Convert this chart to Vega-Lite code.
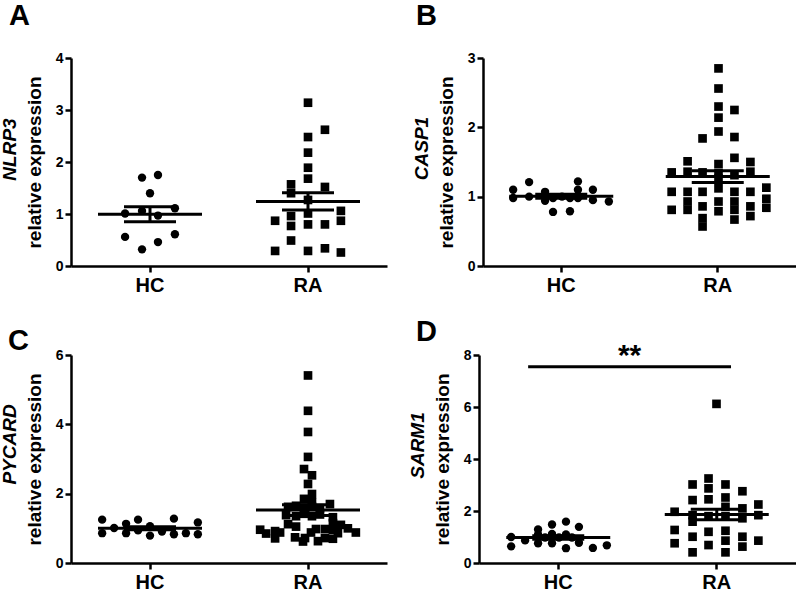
{
  "$schema": "https://vega.github.io/schema/vega-lite/v6.json",
  "padding": {"left": 0, "top": 2, "right": 0, "bottom": 0},
  "background": "white",
  "config": {
    "font": "Liberation Sans",
    "view": {"stroke": null},
    "tick": {"opacity": 1},
    "rule": {"opacity": 1},
    "axis": {"grid": false, "domainColor": "black", "domainWidth": 2.5, "tickColor": "black", "tickWidth": 2.5, "tickSize": 6, "labelColor": "black", "labelFont": "Liberation Sans", "labelFontWeight": "bold", "labelFontSize": 14, "titleColor": "black", "titleFont": "Liberation Sans", "titleFontWeight": "bold", "titleFontSize": 19},
    "axisX": {"labelFontSize": 20, "labelAngle": 0, "labelPadding": 3},
    "axisY": {"labelPadding": 2},
    "title": {"font": "Liberation Sans", "fontSize": 29, "fontWeight": "bold", "color": "black", "anchor": "start", "frame": "group"}
  },
  "datasets": {
    "pts": [
      {"panel":"A","group":"HC","jitter":-8,"value":1.70},
      {"panel":"A","group":"HC","jitter":8,"value":1.75},
      {"panel":"A","group":"HC","jitter":0,"value":1.40},
      {"panel":"A","group":"HC","jitter":-25,"value":1.01},
      {"panel":"A","group":"HC","jitter":-8,"value":1.06},
      {"panel":"A","group":"HC","jitter":8,"value":0.97},
      {"panel":"A","group":"HC","jitter":25,"value":1.11},
      {"panel":"A","group":"HC","jitter":-25,"value":0.56},
      {"panel":"A","group":"HC","jitter":8,"value":0.46},
      {"panel":"A","group":"HC","jitter":25,"value":0.61},
      {"panel":"A","group":"HC","jitter":-8,"value":0.32},
      {"panel":"A","group":"RA","jitter":0,"value":3.14},
      {"panel":"A","group":"RA","jitter":17,"value":2.62},
      {"panel":"A","group":"RA","jitter":0,"value":2.48},
      {"panel":"A","group":"RA","jitter":0,"value":2.18},
      {"panel":"A","group":"RA","jitter":0,"value":1.89},
      {"panel":"A","group":"RA","jitter":0,"value":1.68},
      {"panel":"A","group":"RA","jitter":-17,"value":1.57},
      {"panel":"A","group":"RA","jitter":17,"value":1.52},
      {"panel":"A","group":"RA","jitter":-17,"value":1.40},
      {"panel":"A","group":"RA","jitter":0,"value":1.27},
      {"panel":"A","group":"RA","jitter":0,"value":1.01},
      {"panel":"A","group":"RA","jitter":-17,"value":0.96},
      {"panel":"A","group":"RA","jitter":33,"value":1.06},
      {"panel":"A","group":"RA","jitter":33,"value":0.87},
      {"panel":"A","group":"RA","jitter":-33,"value":0.87},
      {"panel":"A","group":"RA","jitter":-17,"value":0.77},
      {"panel":"A","group":"RA","jitter":0,"value":0.80},
      {"panel":"A","group":"RA","jitter":17,"value":0.80},
      {"panel":"A","group":"RA","jitter":-17,"value":0.49},
      {"panel":"A","group":"RA","jitter":-33,"value":0.29},
      {"panel":"A","group":"RA","jitter":0,"value":0.29},
      {"panel":"A","group":"RA","jitter":17,"value":0.34},
      {"panel":"A","group":"RA","jitter":33,"value":0.26},

      {"panel":"B","group":"HC","jitter":-49,"value":1.10},
      {"panel":"B","group":"HC","jitter":-49,"value":0.98},
      {"panel":"B","group":"HC","jitter":-33,"value":1.21},
      {"panel":"B","group":"HC","jitter":-33,"value":1.00},
      {"panel":"B","group":"HC","jitter":-17,"value":1.07},
      {"panel":"B","group":"HC","jitter":-17,"value":0.94},
      {"panel":"B","group":"HC","jitter":-9,"value":0.78},
      {"panel":"B","group":"HC","jitter":-9,"value":0.98},
      {"panel":"B","group":"HC","jitter":0,"value":1.00},
      {"panel":"B","group":"HC","jitter":8,"value":0.79},
      {"panel":"B","group":"HC","jitter":8,"value":0.98},
      {"panel":"B","group":"HC","jitter":16,"value":1.22},
      {"panel":"B","group":"HC","jitter":16,"value":1.10},
      {"panel":"B","group":"HC","jitter":16,"value":0.98},
      {"panel":"B","group":"HC","jitter":31,"value":1.10},
      {"panel":"B","group":"HC","jitter":31,"value":0.95},
      {"panel":"B","group":"HC","jitter":47,"value":0.93},
      {"panel":"B","group":"RA","jitter":-47,"value":1.35},
      {"panel":"B","group":"RA","jitter":-47,"value":1.07},
      {"panel":"B","group":"RA","jitter":-47,"value":0.81},
      {"panel":"B","group":"RA","jitter":-31,"value":1.51},
      {"panel":"B","group":"RA","jitter":-31,"value":1.36},
      {"panel":"B","group":"RA","jitter":-31,"value":1.07},
      {"panel":"B","group":"RA","jitter":-31,"value":0.93},
      {"panel":"B","group":"RA","jitter":-31,"value":0.81},
      {"panel":"B","group":"RA","jitter":-16,"value":1.84},
      {"panel":"B","group":"RA","jitter":-16,"value":1.35},
      {"panel":"B","group":"RA","jitter":-16,"value":1.07},
      {"panel":"B","group":"RA","jitter":-16,"value":0.86},
      {"panel":"B","group":"RA","jitter":-16,"value":0.69},
      {"panel":"B","group":"RA","jitter":-16,"value":0.57},
      {"panel":"B","group":"RA","jitter":0,"value":2.85},
      {"panel":"B","group":"RA","jitter":0,"value":2.56},
      {"panel":"B","group":"RA","jitter":0,"value":2.30},
      {"panel":"B","group":"RA","jitter":0,"value":2.14},
      {"panel":"B","group":"RA","jitter":0,"value":1.94},
      {"panel":"B","group":"RA","jitter":0,"value":1.47},
      {"panel":"B","group":"RA","jitter":0,"value":1.34},
      {"panel":"B","group":"RA","jitter":0,"value":1.26},
      {"panel":"B","group":"RA","jitter":0,"value":1.12},
      {"panel":"B","group":"RA","jitter":0,"value":0.93},
      {"panel":"B","group":"RA","jitter":0,"value":0.79},
      {"panel":"B","group":"RA","jitter":16,"value":2.25},
      {"panel":"B","group":"RA","jitter":16,"value":1.86},
      {"panel":"B","group":"RA","jitter":16,"value":1.56},
      {"panel":"B","group":"RA","jitter":16,"value":1.31},
      {"panel":"B","group":"RA","jitter":16,"value":1.07},
      {"panel":"B","group":"RA","jitter":16,"value":0.93},
      {"panel":"B","group":"RA","jitter":16,"value":0.81},
      {"panel":"B","group":"RA","jitter":16,"value":0.67},
      {"panel":"B","group":"RA","jitter":32,"value":1.50},
      {"panel":"B","group":"RA","jitter":32,"value":1.36},
      {"panel":"B","group":"RA","jitter":32,"value":1.07},
      {"panel":"B","group":"RA","jitter":32,"value":0.86},
      {"panel":"B","group":"RA","jitter":32,"value":0.72},
      {"panel":"B","group":"RA","jitter":48,"value":1.13},
      {"panel":"B","group":"RA","jitter":48,"value":0.97},
      {"panel":"B","group":"RA","jitter":48,"value":0.84},

      {"panel":"C","group":"HC","jitter":-48,"value":1.25},
      {"panel":"C","group":"HC","jitter":-48,"value":0.86},
      {"panel":"C","group":"HC","jitter":-36,"value":1.01},
      {"panel":"C","group":"HC","jitter":-24,"value":1.13},
      {"panel":"C","group":"HC","jitter":-24,"value":0.86},
      {"panel":"C","group":"HC","jitter":-12,"value":1.25},
      {"panel":"C","group":"HC","jitter":-12,"value":0.94},
      {"panel":"C","group":"HC","jitter":0,"value":1.06},
      {"panel":"C","group":"HC","jitter":0,"value":0.79},
      {"panel":"C","group":"HC","jitter":12,"value":0.91},
      {"panel":"C","group":"HC","jitter":24,"value":1.28},
      {"panel":"C","group":"HC","jitter":24,"value":0.83},
      {"panel":"C","group":"HC","jitter":36,"value":0.86},
      {"panel":"C","group":"HC","jitter":48,"value":1.17},
      {"panel":"C","group":"HC","jitter":48,"value":0.83},
      {"panel":"C","group":"RA","jitter":0,"value":5.41},
      {"panel":"C","group":"RA","jitter":0,"value":4.39},
      {"panel":"C","group":"RA","jitter":0,"value":3.78},
      {"panel":"C","group":"RA","jitter":0,"value":3.06},
      {"panel":"C","group":"RA","jitter":-4,"value":2.71},
      {"panel":"C","group":"RA","jitter":4,"value":2.53},
      {"panel":"C","group":"RA","jitter":0,"value":2.28},
      {"panel":"C","group":"RA","jitter":4,"value":1.99},
      {"panel":"C","group":"RA","jitter":-4,"value":1.85},
      {"panel":"C","group":"RA","jitter":4,"value":1.75},
      {"panel":"C","group":"RA","jitter":-20,"value":1.62},
      {"panel":"C","group":"RA","jitter":-12,"value":1.65},
      {"panel":"C","group":"RA","jitter":-4,"value":1.60},
      {"panel":"C","group":"RA","jitter":4,"value":1.62},
      {"panel":"C","group":"RA","jitter":12,"value":1.58},
      {"panel":"C","group":"RA","jitter":22,"value":1.70},
      {"panel":"C","group":"RA","jitter":-22,"value":1.38},
      {"panel":"C","group":"RA","jitter":-12,"value":1.35},
      {"panel":"C","group":"RA","jitter":-4,"value":1.42},
      {"panel":"C","group":"RA","jitter":4,"value":1.35},
      {"panel":"C","group":"RA","jitter":12,"value":1.40},
      {"panel":"C","group":"RA","jitter":25,"value":1.32},
      {"panel":"C","group":"RA","jitter":-20,"value":1.12},
      {"panel":"C","group":"RA","jitter":-12,"value":1.05},
      {"panel":"C","group":"RA","jitter":25,"value":1.15},
      {"panel":"C","group":"RA","jitter":33,"value":1.10},
      {"panel":"C","group":"RA","jitter":-48,"value":0.96},
      {"panel":"C","group":"RA","jitter":-33,"value":0.92},
      {"panel":"C","group":"RA","jitter":8,"value":0.98},
      {"panel":"C","group":"RA","jitter":17,"value":0.98},
      {"panel":"C","group":"RA","jitter":25,"value":0.96},
      {"panel":"C","group":"RA","jitter":40,"value":1.00},
      {"panel":"C","group":"RA","jitter":-42,"value":0.85},
      {"panel":"C","group":"RA","jitter":-28,"value":0.88},
      {"panel":"C","group":"RA","jitter":3,"value":0.88},
      {"panel":"C","group":"RA","jitter":30,"value":0.86},
      {"panel":"C","group":"RA","jitter":48,"value":0.88},
      {"panel":"C","group":"RA","jitter":-33,"value":0.71},
      {"panel":"C","group":"RA","jitter":-13,"value":0.74},
      {"panel":"C","group":"RA","jitter":-3,"value":0.72},
      {"panel":"C","group":"RA","jitter":17,"value":0.72},
      {"panel":"C","group":"RA","jitter":25,"value":0.70},
      {"panel":"C","group":"RA","jitter":-5,"value":0.62},
      {"panel":"C","group":"RA","jitter":10,"value":0.63},

      {"panel":"D","group":"HC","jitter":-47,"value":1.00},
      {"panel":"D","group":"HC","jitter":-47,"value":0.64},
      {"panel":"D","group":"HC","jitter":-33,"value":0.87},
      {"panel":"D","group":"HC","jitter":-20,"value":1.29},
      {"panel":"D","group":"HC","jitter":-20,"value":1.10},
      {"panel":"D","group":"HC","jitter":-20,"value":0.76},
      {"panel":"D","group":"HC","jitter":-6,"value":1.48},
      {"panel":"D","group":"HC","jitter":-6,"value":1.12},
      {"panel":"D","group":"HC","jitter":-6,"value":0.76},
      {"panel":"D","group":"HC","jitter":-13,"value":0.98},
      {"panel":"D","group":"HC","jitter":8,"value":1.59},
      {"panel":"D","group":"HC","jitter":8,"value":1.10},
      {"panel":"D","group":"HC","jitter":8,"value":0.57},
      {"panel":"D","group":"HC","jitter":1,"value":0.98},
      {"panel":"D","group":"HC","jitter":21,"value":1.39},
      {"panel":"D","group":"HC","jitter":21,"value":0.78},
      {"panel":"D","group":"HC","jitter":14,"value":0.98},
      {"panel":"D","group":"HC","jitter":35,"value":0.58},
      {"panel":"D","group":"HC","jitter":49,"value":0.68},
      {"panel":"D","group":"RA","jitter":0,"value":6.12},
      {"panel":"D","group":"RA","jitter":-42,"value":1.97},
      {"panel":"D","group":"RA","jitter":-42,"value":1.27},
      {"panel":"D","group":"RA","jitter":-42,"value":0.76},
      {"panel":"D","group":"RA","jitter":-24,"value":3.02},
      {"panel":"D","group":"RA","jitter":-24,"value":2.42},
      {"panel":"D","group":"RA","jitter":-24,"value":1.84},
      {"panel":"D","group":"RA","jitter":-24,"value":1.59},
      {"panel":"D","group":"RA","jitter":-24,"value":1.01},
      {"panel":"D","group":"RA","jitter":-24,"value":0.41},
      {"panel":"D","group":"RA","jitter":-8,"value":3.25},
      {"panel":"D","group":"RA","jitter":-8,"value":2.87},
      {"panel":"D","group":"RA","jitter":-8,"value":2.45},
      {"panel":"D","group":"RA","jitter":-8,"value":1.80},
      {"panel":"D","group":"RA","jitter":-8,"value":1.20},
      {"panel":"D","group":"RA","jitter":-8,"value":0.69},
      {"panel":"D","group":"RA","jitter":9,"value":3.02},
      {"panel":"D","group":"RA","jitter":9,"value":2.52},
      {"panel":"D","group":"RA","jitter":9,"value":2.16},
      {"panel":"D","group":"RA","jitter":9,"value":1.80},
      {"panel":"D","group":"RA","jitter":9,"value":1.24},
      {"panel":"D","group":"RA","jitter":9,"value":0.86},
      {"panel":"D","group":"RA","jitter":9,"value":0.41},
      {"panel":"D","group":"RA","jitter":26,"value":2.76},
      {"panel":"D","group":"RA","jitter":26,"value":2.10},
      {"panel":"D","group":"RA","jitter":26,"value":1.72},
      {"panel":"D","group":"RA","jitter":26,"value":1.01},
      {"panel":"D","group":"RA","jitter":26,"value":0.63},
      {"panel":"D","group":"RA","jitter":42,"value":2.25},
      {"panel":"D","group":"RA","jitter":42,"value":1.84},
      {"panel":"D","group":"RA","jitter":42,"value":0.86}
    ]
  },
  "data": {"name": "pts"},
  "bounds": "flush",
  "spacing": 297,
  "vconcat": [
    {
      "bounds": "flush",
      "spacing": 96,
      "hconcat": [
        {
          "width": 316, "height": 208,
          "title": {"text": "A", "dx": -62, "offset": 20},
          "transform": [{"filter": "datum.panel === 'A'"}],
          "layer": [
            {
              "mark": {"type": "point", "filled": true, "opacity": 1, "color": "black"},
              "encoding": {
                "x": {"field": "group", "type": "nominal", "title": null, "scale": {"type": "band", "domain": ["HC", "RA"], "paddingInner": 0, "paddingOuter": 0}},
                "xOffset": {"field": "jitter", "type": "quantitative", "scale": {"domain": [-79, 79]}},
                "y": {"field": "value", "type": "quantitative", "scale": {"domain": [0, 4], "nice": false}, "axis": {"orient": "left", "title": "NLRP3", "titleFontStyle": "italic", "labels": false, "ticks": false, "domain": false, "titlePadding": 52, "titleY": 91}},
                "shape": {"field": "group", "type": "nominal", "scale": {"domain": ["HC", "RA"], "range": ["circle", "square"]}, "legend": null},
                "size": {"field": "group", "type": "ordinal", "scale": {"domain": ["HC", "RA"], "range": [70, 75]}, "legend": null}
              }
            },
            {
              "mark": {"type": "tick", "size": 104, "thickness": 3, "color": "black", "opacity": 1},
              "encoding": {
                "x": {"field": "group", "type": "nominal", "title": null},
                "y": {"aggregate": "mean", "field": "value", "type": "quantitative", "axis": {"orient": "left", "title": "relative expression", "values": [0, 1, 2, 3, 4], "titlePadding": 11}}
              }
            },
            {
              "mark": {"type": "errorbar", "extent": "stderr", "ticks": {"opacity": 1, "color": "black"}, "rule": {"opacity": 1, "color": "black"}, "size": 52, "thickness": 3, "color": "black"},
              "encoding": {
                "x": {"field": "group", "type": "nominal", "title": null},
                "y": {"field": "value", "type": "quantitative", "axis": null}
              }
            }
          ],
          "resolve": {"axis": {"y": "independent"}}
        },
        {
          "width": 313, "height": 208,
          "title": {"text": "B", "dx": -67, "offset": 20},
          "transform": [{"filter": "datum.panel === 'B'"}],
          "layer": [
            {
              "mark": {"type": "point", "filled": true, "opacity": 1, "color": "black"},
              "encoding": {
                "x": {"field": "group", "type": "nominal", "title": null, "scale": {"type": "band", "domain": ["HC", "RA"], "paddingInner": 0, "paddingOuter": 0}},
                "xOffset": {"field": "jitter", "type": "quantitative", "scale": {"domain": [-78.25, 78.25]}},
                "y": {"field": "value", "type": "quantitative", "scale": {"domain": [0, 3], "nice": false}, "axis": {"orient": "left", "title": "CASP1", "titleFontStyle": "italic", "labels": false, "ticks": false, "domain": false, "titlePadding": 52, "titleY": 90}},
                "shape": {"field": "group", "type": "nominal", "scale": {"domain": ["HC", "RA"], "range": ["circle", "square"]}, "legend": null},
                "size": {"field": "group", "type": "ordinal", "scale": {"domain": ["HC", "RA"], "range": [50, 62]}, "legend": null}
              }
            },
            {
              "mark": {"type": "tick", "size": 104, "thickness": 3, "color": "black", "opacity": 1},
              "encoding": {
                "x": {"field": "group", "type": "nominal", "title": null},
                "y": {"aggregate": "mean", "field": "value", "type": "quantitative", "axis": {"orient": "left", "title": "relative expression", "values": [0, 1, 2, 3], "titlePadding": 11}}
              }
            },
            {
              "mark": {"type": "errorbar", "extent": "stderr", "ticks": {"opacity": 1, "color": "black"}, "rule": {"opacity": 1, "color": "black"}, "size": 52, "thickness": 3, "color": "black"},
              "encoding": {
                "x": {"field": "group", "type": "nominal", "title": null},
                "y": {"field": "value", "type": "quantitative", "axis": null}
              }
            }
          ],
          "resolve": {"axis": {"y": "independent"}}
        }
      ]
    },
    {
      "bounds": "flush",
      "spacing": 92,
      "hconcat": [
        {
          "width": 316, "height": 208,
          "title": {"text": "C", "dx": -63, "offset": -8},
          "transform": [{"filter": "datum.panel === 'C'"}],
          "layer": [
            {
              "mark": {"type": "point", "filled": true, "opacity": 1, "color": "black"},
              "encoding": {
                "x": {"field": "group", "type": "nominal", "title": null, "scale": {"type": "band", "domain": ["HC", "RA"], "paddingInner": 0, "paddingOuter": 0}},
                "xOffset": {"field": "jitter", "type": "quantitative", "scale": {"domain": [-79, 79]}},
                "y": {"field": "value", "type": "quantitative", "scale": {"domain": [0, 6], "nice": false}, "axis": {"orient": "left", "title": "PYCARD", "titleFontStyle": "italic", "labels": false, "ticks": false, "domain": false, "titlePadding": 52, "titleY": 89}},
                "shape": {"field": "group", "type": "nominal", "scale": {"domain": ["HC", "RA"], "range": ["circle", "square"]}, "legend": null},
                "size": {"field": "group", "type": "ordinal", "scale": {"domain": ["HC", "RA"], "range": [50, 62]}, "legend": null}
              }
            },
            {
              "mark": {"type": "tick", "size": 104, "thickness": 3, "color": "black", "opacity": 1},
              "encoding": {
                "x": {"field": "group", "type": "nominal", "title": null},
                "y": {"aggregate": "mean", "field": "value", "type": "quantitative", "axis": {"orient": "left", "title": "relative expression", "values": [0, 2, 4, 6], "titlePadding": 11}}
              }
            },
            {
              "mark": {"type": "errorbar", "extent": "stderr", "ticks": {"opacity": 1, "color": "black"}, "rule": {"opacity": 1, "color": "black"}, "size": 52, "thickness": 3, "color": "black"},
              "encoding": {
                "x": {"field": "group", "type": "nominal", "title": null},
                "y": {"field": "value", "type": "quantitative", "axis": null}
              }
            }
          ],
          "resolve": {"axis": {"y": "independent"}}
        },
        {
          "width": 317, "height": 208,
          "title": {"text": "D", "dx": -63, "offset": -6},
          "transform": [{"filter": "datum.panel === 'D'"}],
          "layer": [
            {
              "mark": {"type": "point", "filled": true, "opacity": 1, "color": "black"},
              "encoding": {
                "x": {"field": "group", "type": "nominal", "title": null, "scale": {"type": "band", "domain": ["HC", "RA"], "paddingInner": 0, "paddingOuter": 0}},
                "xOffset": {"field": "jitter", "type": "quantitative", "scale": {"domain": [-79.25, 79.25]}},
                "y": {"field": "value", "type": "quantitative", "scale": {"domain": [0, 8], "nice": false}, "axis": {"orient": "left", "title": "SARM1", "titleFontStyle": "italic", "labels": false, "ticks": false, "domain": false, "titlePadding": 52, "titleY": 90}},
                "shape": {"field": "group", "type": "nominal", "scale": {"domain": ["HC", "RA"], "range": ["circle", "square"]}, "legend": null},
                "size": {"field": "group", "type": "ordinal", "scale": {"domain": ["HC", "RA"], "range": [50, 56]}, "legend": null}
              }
            },
            {
              "mark": {"type": "tick", "size": 104, "thickness": 3, "color": "black", "opacity": 1},
              "encoding": {
                "x": {"field": "group", "type": "nominal", "title": null},
                "y": {"aggregate": "mean", "field": "value", "type": "quantitative", "axis": {"orient": "left", "title": "relative expression", "values": [0, 2, 4, 6, 8], "titlePadding": 11}}
              }
            },
            {
              "mark": {"type": "errorbar", "extent": "stderr", "ticks": {"opacity": 1, "color": "black"}, "rule": {"opacity": 1, "color": "black"}, "size": 52, "thickness": 3, "color": "black"},
              "encoding": {
                "x": {"field": "group", "type": "nominal", "title": null},
                "y": {"field": "value", "type": "quantitative", "axis": null}
              }
            },
            {
              "data": {"values": [{"panel": "D", "from": "HC", "to": "RA", "level": 7.55, "label": "**"}]},
              "mark": {"type": "rule", "strokeWidth": 3, "color": "black"},
              "encoding": {
                "x": {"field": "from", "type": "nominal", "title": null, "bandPosition": 0.31},
                "x2": {"field": "to", "bandPosition": 0.59},
                "y": {"field": "level", "type": "quantitative", "axis": null}
              }
            },
            {
              "data": {"values": [{"panel": "D", "from": "HC", "to": "RA", "level": 7.55, "label": "**"}]},
              "mark": {"type": "text", "fontSize": 30, "fontWeight": "bold", "baseline": "alphabetic", "dy": -2, "color": "black", "font": "Liberation Sans"},
              "encoding": {
                "x": {"field": "from", "type": "nominal", "title": null, "bandPosition": 0.95},
                "y": {"field": "level", "type": "quantitative", "axis": null},
                "text": {"field": "label"}
              }
            }
          ],
          "resolve": {"axis": {"y": "independent"}}
        }
      ]
    }
  ]
}
